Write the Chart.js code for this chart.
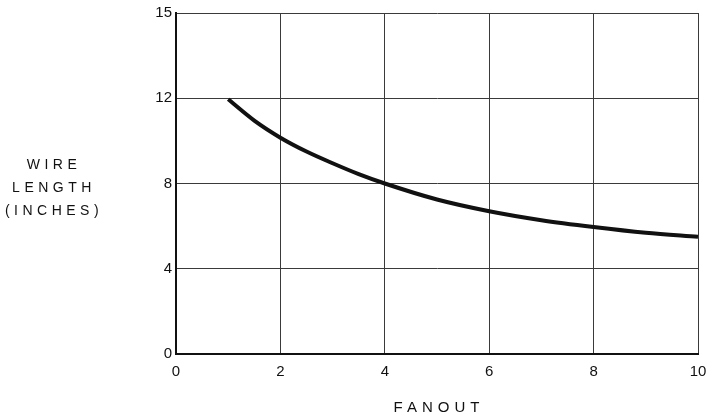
<!DOCTYPE html>
<html>
<head>
<meta charset="utf-8">
<script src="https://cdn.jsdelivr.net/npm/chart.js@4.4.1/dist/chart.umd.min.js"></script>
<style>
  html, body { margin: 0; padding: 0; background: #fff; }
  #wrap { width: 707px; height: 416px; position: relative; }
</style>
</head>
<body>
<div id="wrap"><canvas id="fanoutChart"></canvas></div>
<script>
// curve
const fanout = [1, 1.5, 2, 2.5, 3, 3.5, 4, 5, 6, 7, 8, 9, 10];
const wireLength = [11.95, 10.95, 10.15, 9.5, 8.95, 8.44, 8.0, 7.25, 6.7, 6.28, 5.96, 5.69, 5.5];

// y ticks: the top line is drawn one step up but labelled 15
const yTickValues = [0, 4, 8, 12, 16];
const yTickLabels = ["0", "4", "8", "12", "15"];
const xTickValues = [0, 2, 4, 6, 8, 10];

const xTitle = "FANOUT";
const yTitle = ["WIRE", "LENGTH", "(INCHES)"];

const ink = "#111";
const gridInk = "#3a3a3a";
const fontFamily = "'Liberation Sans', Arial, sans-serif";

// draws the two axis titles the way the printed figure has them
const titlesPlugin = {
  id: "titles",
  afterDraw(chart) {
    const ctx = chart.ctx;
    const area = chart.chartArea;
    ctx.save();
    ctx.fillStyle = ink;
    ctx.textAlign = "center";
    ctx.textBaseline = "middle";
    ctx.font = "15px " + fontFamily;
    ctx.letterSpacing = "5px";
    ctx.fillText(xTitle, (area.left + area.right) / 2 + 2, 408);
    ctx.font = "14px " + fontFamily;
    ctx.letterSpacing = "4.5px";
    yTitle.forEach((line, i) => {
      ctx.fillText(line, 54, 165 + i * 23);
    });
    ctx.restore();
  },
};

new Chart(document.getElementById("fanoutChart"), {
  type: "line",
  data: {
    datasets: [
      {
        data: fanout.map((x, i) => ({ x: x, y: wireLength[i] })),
        borderColor: ink,
        borderWidth: 4,
        pointRadius: 0,
        cubicInterpolationMode: "monotone",
        fill: false,
      },
    ],
  },
  options: {
    responsive: true,
    maintainAspectRatio: false,
    animation: false,
    layout: {
      padding: { top: 13, right: 9, left: 0, bottom: 0 },
    },
    plugins: {
      legend: { display: false },
      tooltip: { enabled: false },
    },
    scales: {
      x: {
        type: "linear",
        min: 0,
        max: 10,
        afterBuildTicks: (scale) => {
          scale.ticks = xTickValues.map((v) => ({ value: v }));
        },
        afterFit: (scale) => {
          scale.height = 416 - 354;
          scale.paddingLeft = 0;
          scale.paddingRight = 0;
        },
        grid: {
          color: gridInk,
          lineWidth: 1,
          drawTicks: false,
        },
        border: { color: ink, width: 2 },
        ticks: {
          color: ink,
          padding: 9,
          maxRotation: 0,
          font: { family: fontFamily, size: 15 },
        },
      },
      y: {
        type: "linear",
        min: 0,
        max: 16,
        afterBuildTicks: (scale) => {
          scale.ticks = yTickValues.map((v) => ({ value: v }));
        },
        afterFit: (scale) => {
          scale.width = 176;
          scale.paddingTop = 0;
          scale.paddingBottom = 0;
        },
        grid: {
          color: gridInk,
          lineWidth: 1,
          drawTicks: false,
        },
        border: { color: ink, width: 2 },
        ticks: {
          color: ink,
          padding: 4,
          font: { family: fontFamily, size: 15 },
          callback: (value) => yTickLabels[yTickValues.indexOf(value)],
        },
      },
    },
  },
  plugins: [titlesPlugin],
});
</script>
</body>
</html>
